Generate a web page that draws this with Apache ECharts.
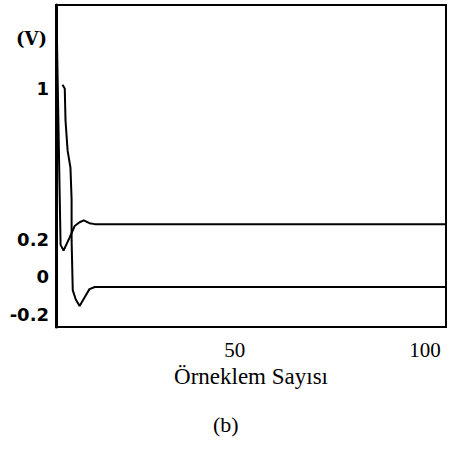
<!DOCTYPE html>
<html>
<head>
<meta charset="utf-8">
<script src="https://cdn.jsdelivr.net/npm/echarts@6/dist/echarts.min.js"></script>
<style>html,body{margin:0;padding:0;background:#fff}#c{width:449px;height:452px}</style>
</head>
<body>
<div id="c"></div>
<script>
// Sample index (x) and voltage (V)
var upperX = [3, 4.2, 5, 6.6, 7.9, 9.2, 10.3, 11.8, 13.2, 20, 40, 60, 80, 105.5];
var upperY = [1.55, 0.17, 0.14, 0.21, 0.27, 0.29, 0.30, 0.285, 0.28, 0.28, 0.28, 0.28, 0.28, 0.28];
var lowerX = [4.7, 5.3, 5.5, 6.05, 6.8, 7.1, 7.1, 7.4, 8.2, 9.2, 10.5, 11.8, 13.2, 20, 40, 60, 80, 105.5];
var lowerY = [1.02, 1.0, 0.83, 0.67, 0.58, 0.41, 0.195, -0.07, -0.12, -0.155, -0.11, -0.065, -0.054, -0.054, -0.054, -0.054, -0.054, -0.054];
var xTicks = [50, 100];
var yTicks = [-0.2, 0, 0.2, 1];

function pairs(xs, ys) { return xs.map(function (x, i) { return [x, ys[i]]; }); }

var SERIF = "'Liberation Serif', 'Times New Roman', serif";
var chart = echarts.init(document.getElementById('c'), null, {renderer: 'svg'});
chart.setOption({
  animation: false,
  backgroundColor: '#fff',
  grid: {left: 56, right: 3, top: 5, bottom: 125, show: true, borderColor: '#000', borderWidth: 2, backgroundColor: 'transparent'},
  xAxis: {
    type: 'value', min: 3, max: 105.5,
    axisLine: {show: true, onZero: false, lineStyle: {color: '#000', width: 2}},
    axisTick: {show: false}, splitLine: {show: false},
    axisLabel: {customValues: xTicks, color: '#000', fontFamily: SERIF, fontSize: 21, margin: 12},
    name: 'Örneklem Sayısı', nameLocation: 'middle', nameGap: 37,
    nameTextStyle: {color: '#000', fontFamily: SERIF, fontSize: 23}
  },
  yAxis: {
    type: 'value', min: -0.266, max: 1.443,
    axisLine: {show: true, onZero: false, lineStyle: {color: '#000', width: 3}},
    axisTick: {show: false}, splitLine: {show: false},
    axisLabel: {customValues: yTicks, color: '#000', fontFamily: "'DejaVu Sans'", fontWeight: 'bold', fontSize: 18, margin: 7,
      formatter: function (v) { return String(Math.round(v * 10) / 10); }}
  },
  graphic: [
    {type: 'text', left: 16, top: 29, style: {text: '(V)', fontFamily: "'DejaVu Serif'", fontWeight: 'bold', fontSize: 18, fill: '#000'}},
    {type: 'text', left: 213, top: 413, style: {text: '(b)', fontFamily: SERIF, fontSize: 22, fill: '#000'}}
  ],
  series: [
    {type: 'line', data: pairs(upperX, upperY), showSymbol: false, clip: true, lineStyle: {color: '#000', width: 2}},
    {type: 'line', data: pairs(lowerX, lowerY), showSymbol: false, clip: true, lineStyle: {color: '#000', width: 2}}
  ]
});
</script>
</body>
</html>
